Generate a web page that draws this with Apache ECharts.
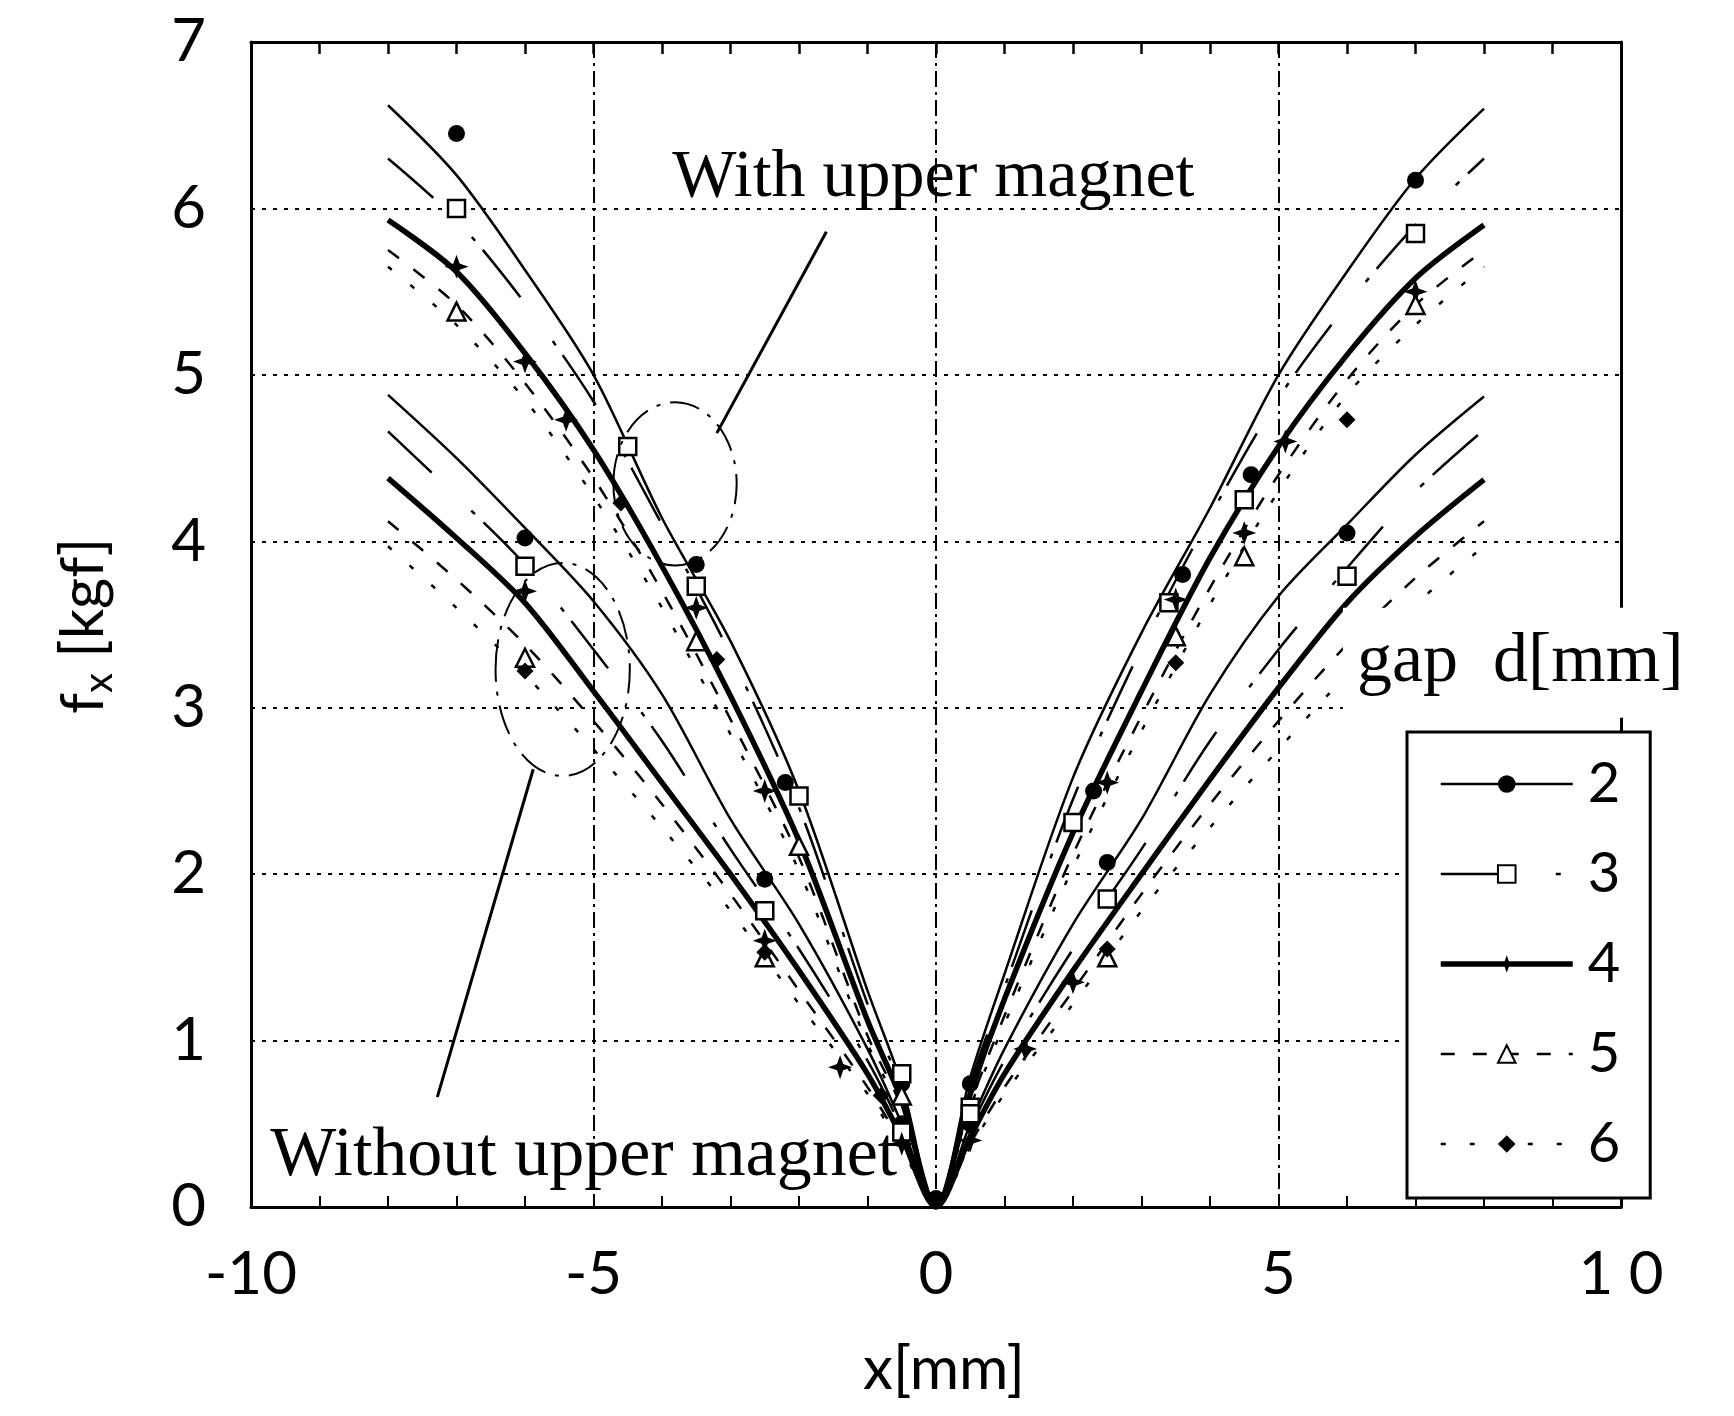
<!DOCTYPE html>
<html><head><meta charset="utf-8">
<script src="https://cdn.jsdelivr.net/npm/echarts@6/dist/echarts.min.js"></script>
<style>html,body{margin:0;padding:0;background:#fff}#c{width:1734px;height:1416px}</style>
</head><body><div id="c"></div>
<script>
// ---------- data ----------
const xTickLabels = ['-10', '-5', '0', '5', '1 0'];
const yTickLabels = ['0', '1', '2', '3', '4', '5', '6', '7'];
const gapNames = ['2', '3', '4', '5', '6'];

const xPos = [-8, -7, -6, -5, -4, -3, -2, -1, -0.5, 0, 0.5, 1, 2, 3, 4, 5, 6, 7, 8];
// fitted curves, with upper magnet
const withD2 = [6.62, 6.2, 5.63, 5.0, 4.14, 3.4, 2.5, 1.3, 0.74, 0, 0.78, 1.4, 2.58, 3.45, 4.2, 5.0, 5.62, 6.18, 6.6];
const withD3 = [6.3, 5.93, 5.43, 4.84, 4.1, 3.32, 2.4, 1.22, 0.7, 0, 0.74, 1.32, 2.45, 3.36, 4.15, 4.86, 5.42, 5.9, 6.3];
const withD4 = [5.93, 5.62, 5.13, 4.55, 3.85, 3.07, 2.2, 1.12, 0.64, 0, 0.68, 1.25, 2.25, 3.1, 3.9, 4.57, 5.12, 5.58, 5.9];
const withD5 = [5.75, 5.42, 4.95, 4.38, 3.7, 2.93, 2.1, 1.03, 0.6, 0, 0.62, 1.15, 2.12, 2.95, 3.72, 4.4, 4.97, 5.42, 5.75];
const withD6 = [5.65, 5.3, 4.85, 4.27, 3.6, 2.84, 2.02, 0.98, 0.57, 0, 0.6, 1.1, 2.04, 2.86, 3.62, 4.3, 4.88, 5.3, 5.65];
// fitted curves, without upper magnet
const woD2 = [4.88, 4.5, 4.08, 3.64, 3.08, 2.33, 1.7, 0.95, 0.5, 0, 0.5, 0.95, 1.7, 2.33, 3.08, 3.67, 4.1, 4.52, 4.87];
const woD3 = [4.66, 4.27, 3.86, 3.35, 2.8, 2.15, 1.55, 0.88, 0.47, 0, 0.47, 0.88, 1.55, 2.15, 2.8, 3.35, 3.84, 4.3, 4.67];
const woD4 = [4.38, 4.02, 3.63, 3.1, 2.55, 2.0, 1.42, 0.8, 0.42, 0, 0.42, 0.8, 1.42, 2.0, 2.57, 3.12, 3.63, 4.03, 4.37];
const woD5 = [4.12, 3.77, 3.38, 2.92, 2.42, 1.88, 1.3, 0.72, 0.38, 0, 0.38, 0.72, 1.3, 1.88, 2.42, 2.92, 3.38, 3.78, 4.12];
const woD6 = [3.97, 3.6, 3.2, 2.75, 2.28, 1.78, 1.22, 0.68, 0.36, 0, 0.36, 0.68, 1.22, 1.78, 2.28, 2.75, 3.2, 3.62, 3.97];

// measured points, with upper magnet
const withP2x = [-7, -3.5, -2.2, -0.5, 0, 0.5, 2.3, 3.6, 4.6, 7];
const withP2y = [6.45, 3.86, 2.55, 0.74, 0.05, 0.74, 2.5, 3.8, 4.4, 6.17];
const withP3x = [-7, -4.5, -3.5, -2, -0.5, 0.5, 2, 3.4, 4.5, 7];
const withP3y = [6.0, 4.57, 3.73, 2.47, 0.8, 0.6, 2.31, 3.63, 4.25, 5.85];
const withP4x = [-7, -6, -5.4, -3.5, -2.5, 2.5, 3.5, 4.5, 5.1, 7];
const withP4y = [5.65, 5.08, 4.73, 3.6, 2.5, 2.55, 3.65, 4.05, 4.6, 5.5];
const withP5x = [-7, -3.5, -2, -0.5, 3.5, 4.5, 7];
const withP5y = [5.38, 3.4, 2.17, 0.67, 3.43, 3.91, 5.42];
const withP6x = [-4.6, -3.2, -0.8, 3.5, 6];
const withP6y = [4.23, 3.29, 0.67, 3.27, 4.73];
// measured points, without upper magnet
const woP2x = [-6, -2.5, -0.5, 0, 0.5, 2.5, 6];
const woP2y = [4.02, 1.97, 0.5, 0.05, 0.5, 2.07, 4.05];
const woP3x = [-6, -2.5, -0.5, 0.5, 2.5, 6];
const woP3y = [3.85, 1.78, 0.45, 0.56, 1.85, 3.79];
const woP4x = [-6, -2.5, -1.4, -0.5, 0.5, 1.3, 2];
const woP4y = [3.7, 1.6, 0.84, 0.38, 0.4, 0.95, 1.35];
const woP5x = [-6, -2.5, 2.5];
const woP5y = [3.3, 1.5, 1.5];
const woP6x = [-6, -2.5, 2.5];
const woP6y = [3.22, 1.53, 1.55];

// annotations (data coordinates)
const upperRing = { cx: -3.81, cy: 4.345, rx: 0.9, ry: 0.49 };
const lowerRing = { cx: -5.45, cy: 3.23, rx: 0.98, ry: 0.64 };
const upperLeader = [[-3.2, 4.65], [-1.6, 5.86]];
const lowerLeader = [[-5.88, 2.63], [-7.28, 0.66]];
const upperText = { x: -3.85, y: 6.18, text: 'With upper magnet' };
const lowerText = { x: -9.72, y: 0.3, text: 'Without upper magnet' };
const gapText = { x: 5.94, y: 3.27, text: 'gap  d[mm]' };

// ---------- styles ----------
const STAR = 'path://M10,0 L12.6,7.4 L20,10 L12.6,12.6 L10,20 L7.4,12.6 L0,10 L7.4,7.4 Z';
const styles = {
  '2': { width: 2.5, type: 'solid', symbol: 'circle', fill: '#000', size: 17 },
  '3': { width: 2.5, type: [60, 55, 5, 12], symbol: 'rect', fill: '#fff', size: 17 },
  '4': { width: 5.5, type: 'solid', symbol: STAR, fill: '#000', size: 24 },
  '5': { width: 2.5, type: [14, 18], symbol: 'triangle', fill: '#fff', size: 18 },
  '6': { width: 2.5, type: [5, 24], symbol: 'diamond', fill: '#000', size: 17 }
};

const withCurves = [withD2, withD3, withD4, withD5, withD6];
const woCurves = [woD2, woD3, woD4, woD5, woD6];
const withPts = [[withP2x, withP2y], [withP3x, withP3y], [withP4x, withP4y], [withP5x, withP5y], [withP6x, withP6y]];
const woPts = [[woP2x, woP2y], [woP3x, woP3y], [woP4x, woP4y], [woP5x, woP5y], [woP6x, woP6y]];

const series = [];
gapNames.forEach((g, k) => {
  const s = styles[g];
  const common = {
    symbol: s.symbol, symbolSize: s.size, smooth: 0.3,
    itemStyle: { color: s.fill, borderColor: '#000', borderWidth: s.fill === '#fff' ? 2.5 : 0, opacity: 1 },
    lineStyle: { color: '#000', width: s.width, type: s.type }
  };
  series.push(Object.assign({
    type: 'line', name: g, showSymbol: false, z: 3, silent: true,
    data: xPos.map((x, i) => [x, withCurves[k][i]])
  }, common));
  series.push(Object.assign({
    type: 'line', name: g + ' without', showSymbol: false, z: 3, silent: true,
    data: xPos.map((x, i) => [x, woCurves[k][i]])
  }, common));
  series.push({
    type: 'scatter', name: g + ' pts', z: 4, silent: true,
    symbol: s.symbol, symbolSize: s.size,
    itemStyle: common.itemStyle,
    data: withPts[k][0].map((x, i) => [x, withPts[k][1][i]]).concat(
          woPts[k][0].map((x, i) => [x, woPts[k][1][i]]))
  });
});

const tickFont = 'Lato, "Open Sans", sans-serif';
const serifFont = '"Liberation Serif", "DejaVu Serif", serif';

const chart = echarts.init(document.getElementById('c'));
chart.setOption({
  animation: false,
  backgroundColor: '#fff',
  grid: { left: 251, right: 113, top: 42, bottom: 209 },
  xAxis: [{
    type: 'value', min: -10, max: 10, interval: 5, position: 'bottom',
    axisLine: { show: true, onZero: false, lineStyle: { color: '#000', width: 3 } },
    axisTick: { show: true, inside: true, length: 11, lineStyle: { color: '#000', width: 2 } },
    minorTick: { show: true, splitNumber: 5, length: 11, lineStyle: { color: '#000', width: 2 } },
    axisLabel: {
      color: '#000', fontSize: 60, fontFamily: tickFont, margin: 38,
      formatter: v => xTickLabels[Math.round((v + 10) / 5)]
    },
    splitLine: { show: true, lineStyle: { color: '#000', width: 2, type: [16, 5, 3, 5] } }
  }, {
    type: 'value', min: -10, max: 10, interval: 5, position: 'top',
    axisLine: { show: true, onZero: false, lineStyle: { color: '#000', width: 3 } },
    axisTick: { show: true, inside: true, length: 12, lineStyle: { color: '#000', width: 2.5 } },
    minorTick: { show: true, splitNumber: 5, length: 12, lineStyle: { color: '#000', width: 2.5 } },
    axisLabel: { show: false }, splitLine: { show: false }
  }],
  yAxis: [{
    type: 'value', min: 0, max: 7, interval: 1,
    axisLine: { show: true, onZero: false, lineStyle: { color: '#000', width: 3 } },
    axisTick: { show: false },
    axisLabel: {
      color: '#000', fontSize: 60, fontFamily: tickFont, margin: 45,
      formatter: v => yTickLabels[Math.round(v)]
    },
    splitLine: { show: true, lineStyle: { color: '#000', width: 2, type: [4, 7] } }
  }, {
    type: 'value', min: 0, max: 7, interval: 1, position: 'right',
    axisLine: { show: true, onZero: false, lineStyle: { color: '#000', width: 3 } },
    axisTick: { show: false }, axisLabel: { show: false }, splitLine: { show: false }
  }],
  legend: {
    data: gapNames.map(g => ({ name: g, lineStyle: { width: styles[g].width } })),
    orient: 'vertical', align: 'left', selectedMode: false,
    left: 1407, top: 732,
    itemWidth: 132, itemHeight: 22, itemGap: 34,
    padding: [24, 30, 26, 31],
    backgroundColor: '#fff', borderColor: '#000', borderWidth: 3,
    textStyle: { color: '#000', fontSize: 56, fontFamily: tickFont, padding: [0, 0, 0, 10] },
    z: 10
  },
  series: series
});

// ---------- annotations ----------
const P = (x, y) => chart.convertToPixel({ xAxisIndex: 0, yAxisIndex: 0 }, [x, y]);
function ring(r) {
  const c = P(r.cx, r.cy), e = P(r.cx + r.rx, r.cy + r.ry);
  return { type: 'ellipse', z: 5, silent: true,
    shape: { cx: c[0], cy: c[1], rx: Math.abs(e[0] - c[0]), ry: Math.abs(c[1] - e[1]) },
    style: { fill: 'none', stroke: '#000', lineWidth: 2, lineDash: [30, 10, 4, 10] } };
}
function leader(l) {
  const a = P(l[0][0], l[0][1]), b = P(l[1][0], l[1][1]);
  return { type: 'line', z: 5, silent: true,
    shape: { x1: a[0], y1: a[1], x2: b[0], y2: b[1] },
    style: { stroke: '#000', lineWidth: 3 } };
}
function label(t, size, bg) {
  const p = P(t.x, t.y);
  return { type: 'text', z: 20, silent: true, x: p[0], y: p[1],
    style: { text: t.text, fill: '#000', font: size + 'px ' + serifFont,
      align: 'left', verticalAlign: 'middle',
      backgroundColor: bg ? '#fff' : undefined, padding: bg ? [20, 14, 20, 14] : 0 } };
}
chart.setOption({
  graphic: [
    ring(upperRing), ring(lowerRing), leader(upperLeader), leader(lowerLeader),
    label(upperText, 68, false), label(lowerText, 70, false), label(gapText, 70, true),
    { type: 'text', z: 20, silent: true, x: 944, y: 1370,
      style: { text: 'x[mm]', fill: '#000', font: '60px ' + tickFont, align: 'center', verticalAlign: 'middle' } },
    { type: 'text', z: 20, silent: true, x: 84, y: 626, rotation: Math.PI / 2,
      style: { text: '{a|f}{s|x}{a| [kgf]}', align: 'center', verticalAlign: 'middle',
        rich: { a: { fontSize: 60, fontFamily: tickFont, fill: '#000', color: '#000', lineHeight: 70, verticalAlign: 'middle' },
                s: { fontSize: 40, fontFamily: tickFont, fill: '#000', color: '#000', lineHeight: 70, verticalAlign: 'bottom' } } } }
  ]
});
</script></body></html>
